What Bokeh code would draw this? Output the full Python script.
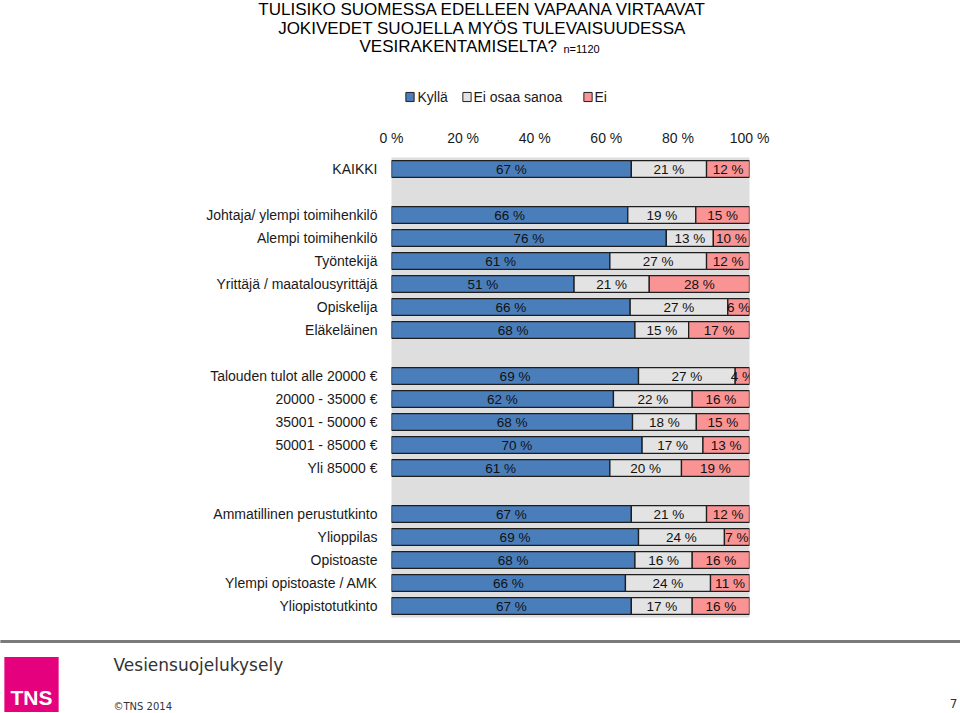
from bokeh.plotting import figure
from bokeh.models import ColumnDataSource, Range1d, FixedTicker, Label
from bokeh.core.properties import value
from bokeh.embed import file_html
from bokeh.resources import INLINE

# ---------------- data ----------------
categories = [
    "KAIKKI", "",
    "Johtaja/ ylempi toimihenkilö", "Alempi toimihenkilö", "Työntekijä",
    "Yrittäjä / maatalousyrittäjä", "Opiskelija", "Eläkeläinen", "",
    "Talouden tulot alle 20000 €", "20000 - 35000 €", "35001 - 50000 €",
    "50001 - 85000 €", "Yli 85000 €", "",
    "Ammatillinen perustutkinto", "Ylioppilas", "Opistoaste",
    "Ylempi opistoaste / AMK", "Yliopistotutkinto",
]
kylla = [67, None, 66, 76, 61, 51, 66, 68, None, 69, 62, 68, 70, 61, None, 67, 69, 68, 66, 67]
eos   = [21, None, 19, 13, 27, 21, 27, 15, None, 27, 22, 18, 17, 20, None, 21, 24, 16, 24, 17]
ei    = [12, None, 15, 10, 12, 28,  6, 17, None,  4, 16, 15, 13, 19, None, 12,  7, 16, 11, 16]
series_names = ["Kyllä", "Ei osaa sanoa", "Ei"]
x_ticks = [0, 20, 40, 60, 80, 100]
x_tick_labels = ["0 %", "20 %", "40 %", "60 %", "80 %", "100 %"]

colors = ["#4a7ebb", "#e3e3e3", "#fa9494"]
FONT = "Liberation Sans"
TXT = "#1a1a1a"

# ---------------- rows (100 % stacked) ----------------
ys, k_n, e_n, n_n, k_r, e_r, n_r = [], [], [], [], [], [], []
for i, (a, b, c) in enumerate(zip(kylla, eos, ei)):
    if a is None:
        continue
    s = a + b + c
    ys.append(i)
    k_n.append(a / s * 100)
    e_n.append(b / s * 100)
    n_n.append(c / s * 100)
    k_r.append(a); e_r.append(b); n_r.append(c)

src = ColumnDataSource(dict(y=ys, k=k_n, e=e_n, n=n_n))

# ---------------- figure ----------------
W, H = 960, 713
FL, FR, FT, FB = 391, 749, 157, 617   # frame edges on the canvas
n_slots = len(categories)
p = figure(width=W, height=H, x_range=Range1d(0, 100),
           y_range=Range1d(n_slots - 0.5, -0.5), x_axis_location="above",
           output_backend="svg", toolbar_location=None,
           min_border_left=FL, min_border_right=W - FR,
           min_border_top=FT, min_border_bottom=H - FB)
p.outline_line_color = None
p.background_fill_color = "#dedede"
p.border_fill_color = "white"
p.xgrid.visible = False
p.ygrid.visible = False

p.hbar_stack(["k", "e", "n"], y="y", height=0.72, color=colors, source=src,
             line_color="#1e1e1e", line_width=1.3)

lab_x, lab_y, lab_t = [], [], []
for y, a, b, c, ra, rb, rc in zip(ys, k_n, e_n, n_n, k_r, e_r, n_r):
    lab_x += [a / 2, a + b / 2, a + b + c / 2]
    lab_y += [y, y, y]
    lab_t += [f"{ra} %", f"{rb} %", f"{rc} %"]
p.text(x=lab_x, y=lab_y, text=lab_t, text_font=value(FONT), text_font_size="13.5px",
       text_color="#111111", text_align="center", text_baseline="middle")

xa = p.xaxis[0]
xa.ticker = FixedTicker(ticks=x_ticks)
xa.major_label_overrides = {t: l for t, l in zip(x_ticks, x_tick_labels)}
xa.axis_line_color = None
xa.major_tick_line_color = None
xa.minor_tick_line_color = None
xa.major_label_standoff = 6
xa.major_label_text_font = FONT
xa.major_label_text_font_size = "14px"
xa.major_label_text_color = TXT

ya = p.yaxis[0]
tick_idx = [i for i, c in enumerate(categories) if c]
ya.ticker = FixedTicker(ticks=tick_idx)
ya.major_label_overrides = {i: categories[i] for i in tick_idx}
ya.axis_line_color = None
ya.major_tick_line_color = None
ya.minor_tick_line_color = None
ya.major_label_standoff = 8
ya.major_label_text_font = FONT
ya.major_label_text_font_size = "14px"
ya.major_label_text_color = TXT


# ---------------- annotations placed in canvas pixels (side panels, not clipped) ----------------
def label(cx, cy, text, size, side, font=FONT, color="#000000", align="left", style="normal"):
    p.add_layout(Label(x=cx, y=cy, x_units="canvas", y_units="canvas", text=text,
                       text_font=font, text_font_size=size, text_color=color,
                       text_align=align, text_baseline="middle", text_font_style=style),
                 side)


def box(cx, cy, pad, fill, side, line=None):
    kw = dict(x=cx, y=cy, x_units="canvas", y_units="canvas", text=" ",
              text_font_size="1px", text_align="center", text_baseline="middle",
              background_fill_color=fill, background_fill_alpha=1.0)
    if line is not None:
        kw.update(border_line_color=line, border_line_width=1)
    try:
        lab = Label(padding=pad, **kw)
    except Exception:
        try:
            lab = Label(padding=max(pad.values()) if isinstance(pad, dict) else 4, **kw)
        except Exception:
            lab = Label(**kw)
    p.add_layout(lab, side)


# title
label(482, 9, "TULISIKO SUOMESSA EDELLEEN VAPAANA VIRTAAVAT", "17px", "above", align="center")
label(482, 28, "JOKIVEDET SUOJELLA MYÖS TULEVAISUUDESSA", "17px", "above", align="center")
label(359, 46, "VESIRAKENTAMISELTA?", "17px", "above")
label(563, 48, "n=1120", "11px", "above")

# legend
leg_sq_x = [409.5, 466.5, 587.5]
leg_tx = [417, 473, 594]
for sqx, tx, col, name in zip(leg_sq_x, leg_tx, colors, series_names):
    box(sqx, 96.5, 4, col, "left", "#222222")
    label(tx, 96.5, name, "14px", "right", color=TXT)

# footer
box(480, 641, dict(left=480, right=480, top=1, bottom=1), "#7a7a7a", "below")
box(31, 684, 27, "#e5007e", "left")
label(31, 697, "TNS", "21px", "left", color="white", align="center", style="bold")
label(113, 664, "Vesiensuojelukysely", "17px", "below", font="DejaVu Sans", color="#333333")
label(113, 706, "©TNS 2014", "10px", "below", font="DejaVu Sans", color="#333333")
label(957, 703, "7", "12px", "below", font="DejaVu Sans", color="#333333", align="right")

open("out.html", "w").write(file_html(p, INLINE))
